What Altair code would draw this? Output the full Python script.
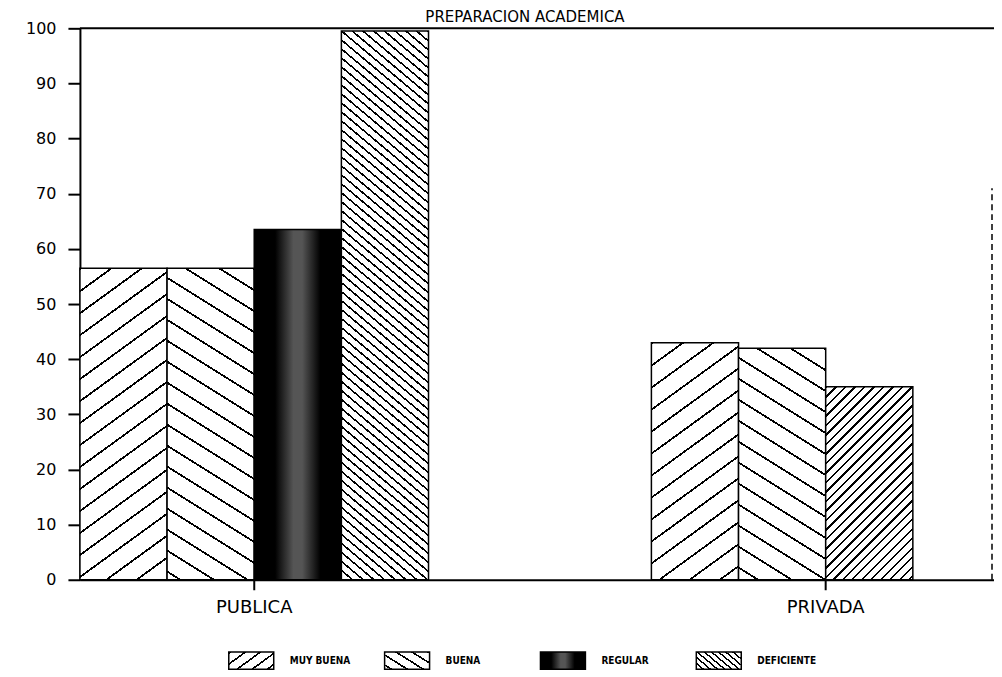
import math
import altair as alt

# ---------------- data ----------------
grupos = ["PUBLICA", "PRIVADA"]
categorias = ["MUY BUENA", "BUENA", "REGULAR", "DEFICIENTE"]
valores_publica = [56.5, 56.5, 63.5, 99.5]
valores_privada = [43, 42, 35, None]
titulo = "PREPARACION ACADEMICA"

# ---------------- layout ----------------
W, H = 921, 552
PAD_IN = 0.39
step = W / (2 - PAD_IN)
bar_w = step * (1 - PAD_IN) / 4


def stripes(w, h, theta, vspace, thick, rising):
    """Hatch fill as a Vega linear gradient in bounding-box units."""
    th = math.radians(theta)
    s, c = math.sin(th), math.cos(th)
    L = w * s + h * c
    P = vspace * c
    if rising:
        ax, ay = w * s / L, h * c / L
        x1, y1 = 0.0, 0.0
    else:
        ax, ay = -w * s / L, h * c / L
        x1, y1 = 1.0, 0.0
    n2 = ax * ax + ay * ay
    x2, y2 = x1 + ax / n2, y1 + ay / n2
    stops = []
    k = 0
    while k * P < L:
        a0 = k * P / L
        a1 = min((k * P + thick) / L, 1.0)
        b = min((k + 1) * P / L, 1.0)
        stops += [(a0, "#000"), (a1, "#000"), (a1, "#fff"), (b, "#fff")]
        k += 1
    return {
        "gradient": "linear",
        "x1": round(x1, 5), "y1": round(y1, 5),
        "x2": round(x2, 5), "y2": round(y2, 5),
        "stops": [{"offset": round(o, 5), "color": col} for o, col in stops],
    }


def dark():
    return {
        "gradient": "linear", "x1": 0, "y1": 0, "x2": 1, "y2": 0,
        "stops": [
            {"offset": 0, "color": "#000"}, {"offset": 0.24, "color": "#000"},
            {"offset": 0.45, "color": "#555"}, {"offset": 0.55, "color": "#555"},
            {"offset": 0.76, "color": "#000"}, {"offset": 1, "color": "#000"},
        ],
    }


estilos = {
    "MUY BUENA": dict(theta=36, vspace=22, thick=1.8, rising=True),
    "BUENA": dict(theta=32, vspace=21, thick=1.8, rising=False),
    "REGULAR": None,
    "DEFICIENTE": dict(theta=40, vspace=9, thick=1.6, rising=False),
}
# the printed PRIVADA / REGULAR bar shows a dense "/" hatch
estilo_especial = {("PRIVADA", "REGULAR"): dict(theta=45, vspace=9.5, thick=1.6, rising=True)}

estilos_leyenda = {
    "MUY BUENA": dict(theta=36, vspace=11, thick=1.6, rising=True),
    "BUENA": dict(theta=32, vspace=10, thick=1.6, rising=False),
    "REGULAR": None,
    "DEFICIENTE": dict(theta=40, vspace=6, thick=1.4, rising=False),
}


def fill_for(w, h, st):
    if st is None:
        return dark()
    return stripes(w, h, **st)


def to_expr(o):
    if isinstance(o, dict):
        return "{" + ",".join(f"{k}:{to_expr(v)}" for k, v in o.items()) + "}"
    if isinstance(o, list):
        return "[" + ",".join(to_expr(v) for v in o) + "]"
    if isinstance(o, str):
        return "'" + o + "'"
    return repr(o)


rows = []
for g, vals in zip(grupos, [valores_publica, valores_privada]):
    for cat, v in zip(categorias, vals):
        if v is None:
            continue
        st = estilo_especial.get((g, cat), estilos[cat])
        rows.append({
            "grupo": g,
            "categoria": cat,
            "valor": v,
            "grad": fill_for(bar_w, v * H / 100.0, st),
        })

leyenda_range = [alt.ExprRef(to_expr(fill_for(45, 17, estilos_leyenda[c]))) for c in categorias]

FONT = "DejaVu Sans"

x_enc = alt.X(
    "grupo:N", sort=grupos,
    scale=alt.Scale(paddingInner=PAD_IN, paddingOuter=0),
    axis=alt.Axis(title=None, labelAngle=0, labelFontSize=18, labelFont=FONT,
                  labelColor="black", labelPadding=9, tickSize=10, tickWidth=2,
                  tickColor="black", domainColor="black", domainWidth=2),
)
xoff_enc = alt.XOffset("categoria:N", sort=categorias,
                       scale=alt.Scale(domain=categorias, paddingInner=0, paddingOuter=0))
y_scale = alt.Scale(domain=[0, 100], nice=False)
y_axis = alt.Axis(title=None, values=list(range(0, 101, 10)), grid=False,
                  labelFontSize=16, labelFont=FONT, labelColor="black",
                  labelPadding=12, tickSize=12, tickWidth=2, tickColor="black",
                  domainColor="black", domainWidth=2, minExtent=72, maxExtent=72)

base = alt.Chart(alt.Data(values=rows))

bars = base.mark_bar(stroke="black", strokeWidth=1.5).encode(
    x=x_enc,
    xOffset=xoff_enc,
    y=alt.Y("valor:Q", stack=None, scale=y_scale, axis=y_axis),
    fill=alt.Fill("grad:N", scale=None, legend=None),
)

legend_layer = base.mark_bar(stroke="black", strokeWidth=1.5).encode(
    x=x_enc,
    xOffset=xoff_enc,
    y=alt.datum(0),
    color=alt.Color(
        "categoria:N",
        scale=alt.Scale(domain=categorias, range=leyenda_range),
        legend=alt.Legend(
            title=None, orient="none", legendX=148, legendY=609,
            direction="horizontal", columns=4, gridAlign="all",
            symbolType="M-1,-0.38L1,-0.38L1,0.38L-1,0.38Z", symbolSize=2025,
            symbolStrokeColor="black", symbolStrokeWidth=1.5,
            labelFont="DejaVu Sans Condensed", labelFontWeight="bold",
            labelFontSize=10, labelColor="black", labelOffset=15,
            columnPadding=31,
        ),
    ),
)

one = alt.Data(values=[{"k": 1}])
top_line = alt.Chart(one).mark_rule(color="black", strokeWidth=2).encode(y=alt.datum(100))
right_line = alt.Chart(one).mark_rule(color="black", strokeWidth=1.5, strokeDash=[6, 4]).encode(
    x=alt.value(W - 8), y=alt.datum(0), y2=alt.datum(71)
)

chart = (
    alt.layer(bars, legend_layer, top_line, right_line)
    .properties(
        width=W, height=H,
        padding={"left": 0, "top": 2, "right": -7, "bottom": 0},
        title=alt.TitleParams(titulo, font=FONT, fontSize=15, fontWeight="normal",
                              color="black", anchor="middle", frame="group", dx=-15, offset=-5),
    )
    .configure_view(stroke=None)
)

chart.save("out.html", embed_options={"renderer": "svg", "actions": False})
